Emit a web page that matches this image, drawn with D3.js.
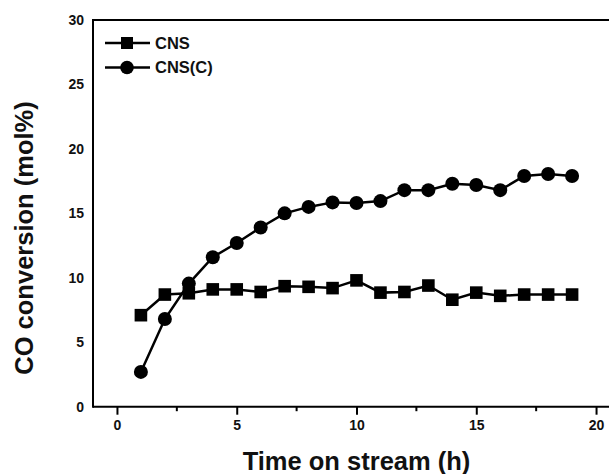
<!DOCTYPE html>
<html>
<head>
<meta charset="utf-8">
<script src="https://cdn.jsdelivr.net/npm/d3@7"></script>
<style>
  html, body { margin: 0; padding: 0; background: #fff; }
  svg { display: block; font-family: Arial, "Liberation Sans", sans-serif; }
</style>
</head>
<body>
<div id="chart"></div>
<script>
// Data
const hours = [1, 2, 3, 4, 5, 6, 7, 8, 9, 10, 11, 12, 13, 14, 15, 16, 17, 18, 19];
const cns = [7.1, 8.7, 8.8, 9.1, 9.1, 8.9, 9.35, 9.3, 9.2, 9.8, 8.85, 8.9, 9.4, 8.3, 8.85, 8.6, 8.7, 8.7, 8.7];
const cnsC = [2.7, 6.8, 9.55, 11.6, 12.7, 13.9, 15.0, 15.5, 15.85, 15.8, 15.95, 16.8, 16.8, 17.3, 17.2, 16.8, 17.9, 18.05, 17.9];
const seriesNames = ["CNS", "CNS(C)"];
const xTicks = [0, 5, 10, 15, 20];
const yTicks = [0, 5, 10, 15, 20, 25, 30];

// Dimensions
const width = 609;
const height = 474;

const x = d3.scaleLinear().domain([-1, 21]).range([93, 620]);
const y = d3.scaleLinear().domain([0, 30]).range([406.7, 20]);

const svg = d3.select("#chart").append("svg")
  .attr("width", width)
  .attr("height", height);

// top frame line
svg.append("line")
  .attr("x1", x(-1)).attr("x2", width)
  .attr("y1", y(30)).attr("y2", y(30))
  .attr("stroke", "#000").attr("stroke-width", 2);

// x axis
const xAxis = d3.axisBottom(x)
  .tickValues(xTicks)
  .tickSize(8)
  .tickPadding(5)
  .tickFormat(d3.format("d"));

const gx = svg.append("g")
  .attr("transform", `translate(0,${y(0)})`)
  .call(xAxis);
gx.select(".domain").remove();
gx.selectAll(".tick line").attr("stroke-width", 2);
gx.selectAll(".tick text")
  .attr("font-size", 14).attr("font-weight", "bold")
  .attr("font-family", "Arial, 'Liberation Sans', sans-serif")
  .attr("fill", "#111");

// minor ticks
svg.append("g")
  .selectAll("line")
  .data([2.5, 7.5, 12.5, 17.5])
  .join("line")
  .attr("x1", d => x(d)).attr("x2", d => x(d))
  .attr("y1", y(0)).attr("y2", y(0) + 4.5)
  .attr("stroke", "#000").attr("stroke-width", 2);

svg.append("line")
  .attr("x1", x(-1)).attr("x2", width)
  .attr("y1", y(0)).attr("y2", y(0))
  .attr("stroke", "#000").attr("stroke-width", 2);

// y axis (no tick marks, labels only)
svg.append("g")
  .selectAll("text")
  .data(yTicks)
  .join("text")
  .attr("x", 84)
  .attr("y", d => y(d))
  .attr("dy", "0.35em")
  .attr("text-anchor", "end")
  .attr("font-size", 14)
  .attr("font-weight", "bold")
  .attr("fill", "#111")
  .text(d => d);

svg.append("line")
  .attr("x1", x(-1)).attr("x2", x(-1))
  .attr("y1", y(30) - 1).attr("y2", y(0) + 1)
  .attr("stroke", "#000").attr("stroke-width", 2);

// Axis titles
svg.append("text")
  .attr("x", 356.5)
  .attr("y", 470)
  .attr("text-anchor", "middle")
  .attr("font-size", 25.5)
  .attr("font-weight", "bold")
  .attr("fill", "#111")
  .text("Time on stream (h)");

svg.append("text")
  .attr("transform", `translate(33,238) rotate(-90)`)
  .attr("text-anchor", "middle")
  .attr("font-size", 25.5)
  .attr("font-weight", "bold")
  .attr("fill", "#111")
  .text("CO conversion (mol%)");

// Lines
const line = d3.line()
  .x((d, i) => x(hours[i]))
  .y(d => y(d));

const series = [cns, cnsC];
svg.append("g")
  .selectAll("path")
  .data(series)
  .join("path")
  .attr("fill", "none")
  .attr("stroke", "#000")
  .attr("stroke-width", 2.5)
  .attr("d", line);

// Markers
svg.append("g")
  .selectAll("rect")
  .data(cns)
  .join("rect")
  .attr("x", (d, i) => x(hours[i]) - 6.3)
  .attr("y", d => y(d) - 6.3)
  .attr("width", 12.6)
  .attr("height", 12.6)
  .attr("fill", "#000");

svg.append("g")
  .selectAll("circle")
  .data(cnsC)
  .join("circle")
  .attr("cx", (d, i) => x(hours[i]))
  .attr("cy", d => y(d))
  .attr("r", 7)
  .attr("fill", "#000");

// Legend
const legend = svg.append("g")
  .selectAll("g")
  .data(seriesNames)
  .join("g")
  .attr("transform", (d, i) => `translate(0,${43 + i * 24.5})`);

legend.append("line")
  .attr("x1", 105).attr("x2", 150)
  .attr("stroke", "#000").attr("stroke-width", 2.5);

legend.filter((d, i) => i === 0).append("rect")
  .attr("x", 121).attr("y", -6).attr("width", 12).attr("height", 12)
  .attr("fill", "#000");

legend.filter((d, i) => i === 1).append("circle")
  .attr("cx", 127).attr("r", 6.8)
  .attr("fill", "#000");

legend.append("text")
  .attr("x", 155)
  .attr("dy", "0.36em")
  .attr("font-size", 16.5)
  .attr("font-weight", "bold")
  .attr("fill", "#111")
  .text(d => d);
</script>
</body>
</html>
